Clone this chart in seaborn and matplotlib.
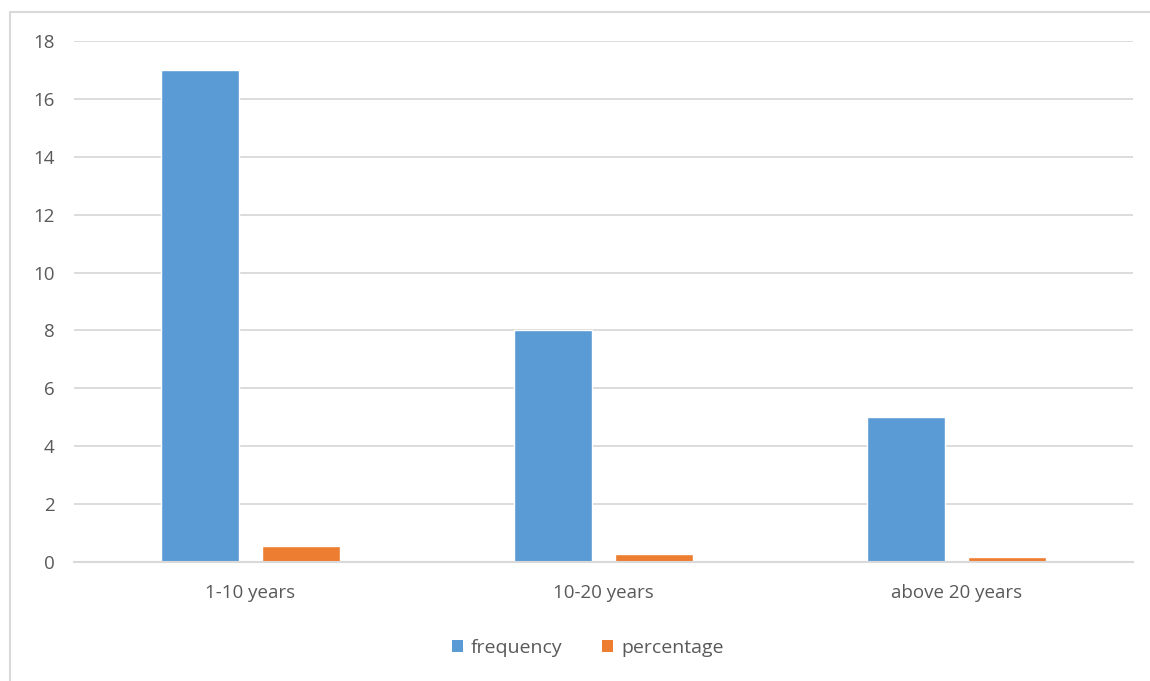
import matplotlib
matplotlib.use("Agg")
import matplotlib.pyplot as plt
from matplotlib.patches import Rectangle, Patch
import seaborn as sns
import pandas as pd

categories = ["1-10 years", "10-20 years", "above 20 years"]
frequency = [17, 8, 5]
percentage = [0.567, 0.267, 0.167]
series_names = ["frequency", "percentage"]
y_ticks = [0, 2, 4, 6, 8, 10, 12, 14, 16, 18]

colors = {"frequency": "#5B9BD5", "percentage": "#ED7D31"}
text_color = "#595959"
grid_color = "#D9D9D9"

df = pd.DataFrame({
    "category": categories * 2,
    "series": [series_names[0]] * len(categories) + [series_names[1]] * len(categories),
    "value": frequency + percentage,
})

sns.set_theme(style="white")
plt.rcParams["font.family"] = ["Open Sans", "DejaVu Sans"]

fig = plt.figure(figsize=(11.5, 6.81), dpi=100)
ax = fig.add_axes([0.0643, 0.1747, 0.9209, 0.7651])

sns.barplot(data=df, x="category", y="value", hue="series", order=categories,
            hue_order=series_names, palette=colors, width=0.572, gap=0.22,
            saturation=1, legend=False, ax=ax, zorder=3)

ax.set_xlim(-0.5, len(categories) - 0.5)
ax.set_ylim(0, 18)
ax.set_yticks(y_ticks)
ax.set_yticklabels([str(t) for t in y_ticks])
ax.yaxis.grid(True, color=grid_color, linewidth=1.3, zorder=0)
ax.set_axisbelow(True)
for side in ["top", "right", "left"]:
    ax.spines[side].set_visible(False)
ax.spines["bottom"].set_color(grid_color)
ax.spines["bottom"].set_linewidth(1.5)
ax.spines["bottom"].set_zorder(4)
ax.set_xlabel("")
ax.set_ylabel("")
ax.tick_params(axis="y", length=0, pad=14, labelsize=13.5, labelcolor=text_color)
ax.tick_params(axis="x", length=0, pad=16, labelsize=13.5, labelcolor=text_color)

handles = [Patch(facecolor=colors[s], edgecolor="none", label=s) for s in series_names]
fig.legend(handles=handles, loc="center", bbox_to_anchor=(0.511, 0.049), ncol=2,
           frameon=False, handlelength=0.6, handleheight=0.6, handletextpad=0.4,
           columnspacing=2.0, prop={"size": 14}, labelcolor=text_color)

# chart-area frame
fig.patches.append(Rectangle((10 / 1150, -0.05), 1.2, 1 - 12 / 681 + 0.05,
                             transform=fig.transFigure, fill=False,
                             edgecolor=grid_color, linewidth=1.5))

fig.savefig("out.png", dpi=100, facecolor="white")
